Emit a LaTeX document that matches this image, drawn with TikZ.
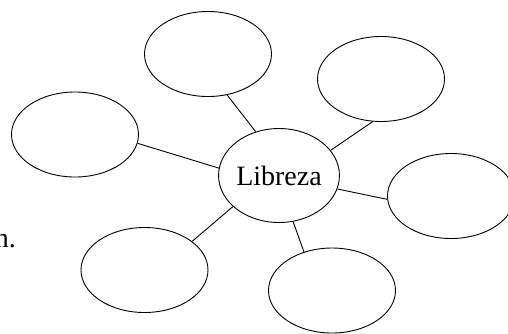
\documentclass[tikz,border=0pt]{standalone}
\usepackage{fontspec}
\setmainfont{Liberation Serif}
\usepackage{tikz}
\usetikzlibrary{shapes.geometric}
\tikzset{
  mapbubble/.style={draw, ellipse, line width=0.9pt, minimum width=127pt, minimum height=85pt, inner sep=0pt},
  maphub/.style={draw, ellipse, line width=0.9pt, minimum width=119pt, minimum height=94pt, inner sep=0pt, font=\fontsize{28}{32}\selectfont},
  maplink/.style={line width=0.9pt}
}
\begin{document}
\begin{tikzpicture}[x=1pt, y=-1pt]
\useasboundingbox (0,0) rectangle (508,333);
\node[maphub] (libreza) at (279,175.5) {Libreza};

\node[mapbubble] (top) at (208,54) {};
\node[mapbubble] (topright) at (381,79) {};
\node[mapbubble] (left) at (75,134.5) {};
\node[mapbubble] (right) at (451,196) {};
\node[mapbubble] (botleft) at (144.5,270) {};
\node[mapbubble] (bottom) at (332,290.5) {};

\node[anchor=base east, inner sep=0pt, font=\fontsize{28}{32}\selectfont] (cut) at (16,247) {n.};

\draw[maplink] (libreza.118.9) -- (top.-65);
\draw[maplink] (libreza.26.6) -- (topright.-101);
\draw[maplink] (libreza.173.1) -- (left.-8.8);
\draw[maplink] (libreza.-13) -- (right.-177);
\draw[maplink] (libreza.-146.6) -- (botleft.31.9);
\draw[maplink] (libreza.-73.1) -- (bottom.126.9);
\end{tikzpicture}
\end{document}
